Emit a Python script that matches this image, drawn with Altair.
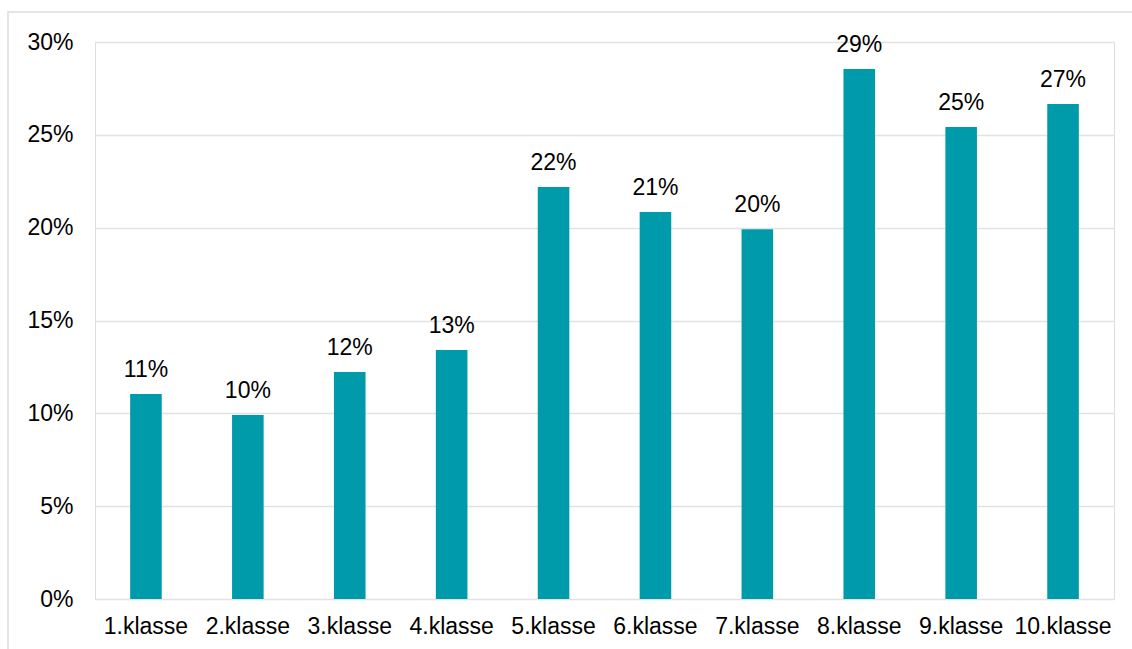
import altair as alt
import pandas as pd

categories = ["1.klasse", "2.klasse", "3.klasse", "4.klasse", "5.klasse",
              "6.klasse", "7.klasse", "8.klasse", "9.klasse", "10.klasse"]
values = [0.1104, 0.0991, 0.1222, 0.1341, 0.2219, 0.2084, 0.1992, 0.2854, 0.2542, 0.2666]

df = pd.DataFrame({"klasse": categories, "andel": values})

FONT = "Liberation Sans"
TEAL = "#009BAA"
FS = 23

x = alt.X("klasse:N", sort=categories, title=None,
          scale=alt.Scale(paddingInner=0.69, paddingOuter=0.345),
          axis=alt.Axis(labelAngle=0, labelFontSize=FS, labelFont=FONT, labelColor="#000000",
                        domain=False, ticks=False, labelPadding=16))
y = alt.Y("andel:Q", title=None,
          scale=alt.Scale(domain=[0, 0.30], nice=False),
          axis=alt.Axis(format=".0%", values=[0, 0.05, 0.10, 0.15, 0.20, 0.25, 0.30],
                        labelFontSize=FS, labelFont=FONT, labelColor="#000000",
                        domain=False, ticks=False, labelPadding=22,
                        gridColor="#E2E2E2", gridWidth=1.5))

bars = alt.Chart(df).mark_bar(color=TEAL).encode(x=x, y=y)
labels = alt.Chart(df).mark_text(baseline="alphabetic", dy=-17, fontSize=FS, font=FONT,
                                 color="#000000").encode(
    x=alt.X("klasse:N", sort=categories),
    y="andel:Q",
    text=alt.Text("andel:Q", format=".0%"))

border = alt.Chart(pd.DataFrame({"a": [0]})).mark_rect(
    fill=None, stroke="#DDDDDD", strokeWidth=1.5, clip=False).encode(
    x=alt.value(-87), x2=alt.value(1045), y=alt.value(-30), y2=alt.value(620))

chart = alt.layer(border, bars, labels).properties(
    width=1019, height=557,
    autosize=alt.AutoSizeParams(type="none"),
    padding={"left": 95, "top": 42, "right": 18, "bottom": 50},
).configure_view(stroke=None).configure(background="white")

chart.save("out.html", embed_options={"renderer": "svg", "actions": False})
